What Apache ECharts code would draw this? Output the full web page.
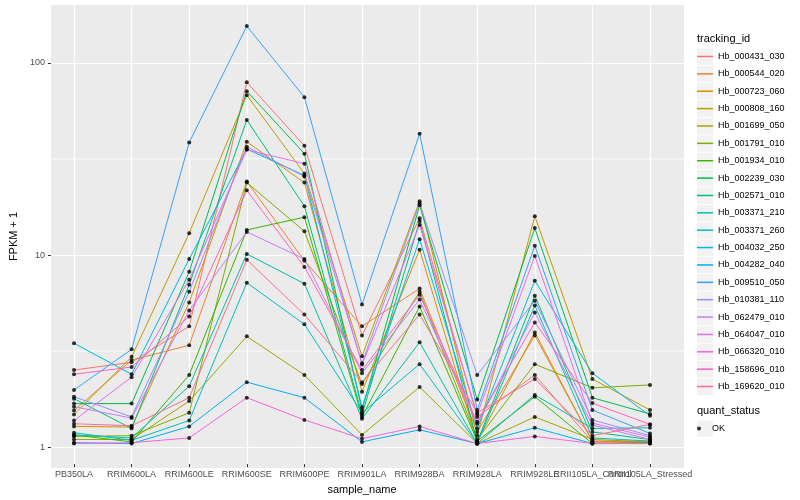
<!DOCTYPE html>
<html><head><meta charset="utf-8">
<script src="https://cdn.jsdelivr.net/npm/echarts@6/dist/echarts.min.js"></script>
<style>html,body{margin:0;padding:0;background:#fff}#c{width:800px;height:500px}</style>
</head><body><div id="c"></div>
<script>
const categories = ["PB350LA","RRIM600LA","RRIM600LE","RRIM600SE","RRIM600PE","RRIM901LA","RRIM928BA","RRIM928LA","RRIM928LE","RRII105LA_Control","RRII105LA_Stressed"];
const trackingIds = ["Hb_000431_030","Hb_000544_020","Hb_000723_060","Hb_000808_160","Hb_001699_050","Hb_001791_010","Hb_001934_010","Hb_002239_030","Hb_002571_010","Hb_003371_210","Hb_003371_260","Hb_004032_250","Hb_004282_040","Hb_009510_050","Hb_010381_110","Hb_062479_010","Hb_064047_010","Hb_066320_010","Hb_158696_010","Hb_169620_010"];
const colors = ["#F8766D","#EA8331","#D89000","#C09B00","#A3A500","#7CAE00","#39B600","#00BB4E","#00BF7D","#00C1A3","#00BFC4","#00BAE0","#00B0F6","#35A2FF","#9590FF","#C77CFF","#E76BF3","#FA62DB","#FF62BC","#FF6C91"];

const Hb_000431_030 = [2.43, 2.67, 4.12, 78.7, 36.5, 3.69, 15.2, 1.38, 2.29, 1.02, 1.03];
const Hb_000544_020 = [1.49, 2.74, 3.28, 23.7, 9.1, 4.12, 6.5, 1.15, 3.69, 1.03, 1.02];
const Hb_000723_060 = [1.23, 1.22, 5.5, 38.3, 23.4, 1.87, 10.4, 1.02, 3.83, 1.02, 1.01];
const Hb_000808_160 = [1.42, 2.85, 12.7, 67.3, 26.1, 2.87, 18.7, 1.1, 15.6, 2.18, 1.5];
const Hb_001699_050 = [1.05, 1.05, 1.67, 3.65, 2.29, 1.11, 1.98, 1.0, 1.38, 1.05, 1.02];
const Hb_001791_010 = [1.09, 1.1, 1.45, 23.4, 13.0, 2.05, 6.26, 1.05, 2.61, 1.96, 2.03];
const Hb_001934_010 = [1.11, 1.02, 2.29, 13.2, 15.4, 1.38, 5.24, 1.03, 1.76, 1.0, 1.01];
const Hb_002239_030 = [1.62, 1.62, 7.96, 70.6, 33.2, 1.5, 17.8, 1.7, 13.5, 1.74, 1.43];
const Hb_002571_010 = [1.72, 1.2, 6.81, 49.9, 17.6, 1.42, 14.7, 1.02, 5.97, 1.15, 1.05];
const Hb_003371_210 = [1.11, 1.07, 2.0, 9.88, 6.9, 1.35, 3.4, 1.0, 1.8, 1.2, 1.21];
const Hb_003371_260 = [1.14, 1.04, 1.32, 6.98, 4.22, 1.45, 2.61, 1.0, 5.3, 1.07, 1.03];
const Hb_004032_250 = [3.36, 2.31, 9.3, 35.1, 25.5, 1.55, 11.8, 1.2, 7.15, 2.34, 1.4];
const Hb_004282_040 = [1.01, 1.0, 1.23, 2.1, 1.74, 1.02, 1.18, 1.0, 1.21, 1.0, 1.0];
const Hb_009510_050 = [1.91, 3.12, 38.0, 155, 65.7, 5.36, 42.2, 1.5, 10.9, 1.5, 1.13];
const Hb_010381_110 = [1.76, 1.38, 6.26, 36.1, 25.2, 2.64, 18.2, 2.29, 5.62, 1.33, 1.1];
const Hb_062479_010 = [1.56, 1.36, 4.99, 12.9, 9.3, 2.34, 5.69, 1.27, 4.87, 1.25, 1.05];
const Hb_064047_010 = [1.32, 2.23, 7.23, 34.8, 29.4, 2.6, 14.0, 1.42, 9.65, 1.28, 1.08];
const Hb_066320_010 = [1.0, 1.01, 1.07, 1.74, 1.33, 1.06, 1.23, 1.0, 1.09, 1.0, 1.0];
const Hb_158696_010 = [2.31, 2.52, 4.64, 21.3, 8.45, 2.43, 6.04, 1.3, 4.32, 1.63, 1.26];
const Hb_169620_010 = [1.27, 1.24, 1.74, 9.21, 4.75, 2.1, 4.75, 1.45, 2.18, 1.1, 1.26];

const seriesValues = [Hb_000431_030, Hb_000544_020, Hb_000723_060, Hb_000808_160, Hb_001699_050, Hb_001791_010, Hb_001934_010, Hb_002239_030, Hb_002571_010, Hb_003371_210, Hb_003371_260, Hb_004032_250, Hb_004282_040, Hb_009510_050, Hb_010381_110, Hb_062479_010, Hb_064047_010, Hb_066320_010, Hb_158696_010, Hb_169620_010];
const yTicks = [1, 10, 100];
const yMinorBreaks = [3.1623, 31.623];
const statusLabel = "OK";

const FONT = "Liberation Sans";
const Y_MIN = 0.78, Y_MAX = 200;
const PANEL = {left: 40, right: 116, top: 5, bottom: 32};
const DATA_GRID = {left: 74, right: 150, top: 5, bottom: 32};
const LEG_LEFT = 697, LEG_TOP = 48, LEG_PITCH = 17.37;

const series = [];
// minor horizontal gridlines across the full panel (panel x axis runs 0..1)
yMinorBreaks.forEach((v, j) => {
  series.push({
    name: 'minor' + j, type: 'line', xAxisIndex: 0, yAxisIndex: 0,
    data: [[0, v], [1, v]], symbol: 'none', silent: true, z: 1,
    lineStyle: {color: '#FFFFFF', width: 0.8}
  });
});
trackingIds.forEach((id, k) => {
  series.push({
    name: id, type: 'line', xAxisIndex: 1, yAxisIndex: 1,
    data: seriesValues[k], symbol: 'none', color: colors[k],
    lineStyle: {width: 1, color: colors[k]}, z: 3, silent: true
  });
});
const pts = [];
seriesValues.forEach(arr => arr.forEach((v, i) => pts.push([categories[i], v])));
series.push({
  name: statusLabel, type: 'scatter', xAxisIndex: 1, yAxisIndex: 1,
  data: pts, symbol: 'circle', symbolSize: 4, itemStyle: {color: '#000000'}, z: 5, silent: true
});

const graphics = [];
trackingIds.forEach((id, k) => {
  graphics.push({type: 'rect', left: LEG_LEFT, top: LEG_TOP + k * LEG_PITCH + 0.4, shape: {width: 16, height: 16.5}, style: {fill: '#F2F2F2'}, z: 0});
});
graphics.push({type: 'rect', left: LEG_LEFT, top: 420.4, shape: {width: 16, height: 16.5}, style: {fill: '#F2F2F2'}, z: 0});
graphics.push({type: 'text', left: LEG_LEFT, top: 33, style: {text: 'tracking_id', fontSize: 11, fontFamily: FONT, fill: '#000'}});
graphics.push({type: 'text', left: LEG_LEFT, top: 405, style: {text: 'quant_status', fontSize: 11, fontFamily: FONT, fill: '#000'}});

const option = {
  animation: false,
  backgroundColor: '#FFFFFF',
  textStyle: {fontFamily: FONT},
  grid: [
    Object.assign({show: true, backgroundColor: '#EBEBEB', borderWidth: 0, z: 0}, PANEL),
    Object.assign({show: false}, DATA_GRID)
  ],
  xAxis: [
    {type: 'value', gridIndex: 0, min: 0, max: 1, show: false},
    {type: 'category', gridIndex: 1, data: categories, boundaryGap: false,
     axisLine: {show: false},
     axisTick: {show: true, length: 3, lineStyle: {color: '#333333', width: 1}, alignWithLabel: true},
     axisLabel: {interval: 0, color: '#4D4D4D', fontSize: 9, fontFamily: FONT, margin: 6},
     splitLine: {show: true, lineStyle: {color: '#FFFFFF', width: 1.2}},
     name: 'sample_name', nameLocation: 'middle', nameGap: 17,
     nameTextStyle: {color: '#000', fontSize: 11, fontFamily: FONT}}
  ],
  yAxis: [
    {type: 'log', gridIndex: 0, logBase: 10, min: Y_MIN, max: Y_MAX,
     axisLine: {show: false},
     axisTick: {show: true, length: 3, lineStyle: {color: '#333333', width: 1}, customValues: yTicks},
     axisLabel: {color: '#4D4D4D', fontSize: 9, fontFamily: FONT, margin: 6, customValues: yTicks, showMinLabel: true, showMaxLabel: true},
     splitLine: {show: true, lineStyle: {color: '#FFFFFF', width: 1.2}},
     name: 'FPKM + 1', nameLocation: 'middle', nameGap: 26, nameRotate: 90,
     nameTextStyle: {color: '#000', fontSize: 11, fontFamily: FONT}},
    {type: 'log', gridIndex: 1, logBase: 10, min: Y_MIN, max: Y_MAX, show: false, splitLine: {show: false}}
  ],
  legend: [
    {data: trackingIds, orient: 'vertical', left: LEG_LEFT, top: LEG_TOP, padding: 0,
     icon: 'rect', itemWidth: 16, itemHeight: 1.5, itemGap: LEG_PITCH - 17,
     selectedMode: false,
     textStyle: {fontSize: 9, fontFamily: FONT, color: '#000', lineHeight: 17}},
    {data: [statusLabel], orient: 'vertical', left: LEG_LEFT, top: 420, padding: 0,
     icon: 'circle', itemWidth: 16, itemHeight: 4, selectedMode: false,
     textStyle: {fontSize: 9, fontFamily: FONT, color: '#000', lineHeight: 17}}
  ],
  graphic: graphics,
  series: series
};
const chart = echarts.init(document.getElementById('c'), null, {renderer: 'canvas'});
chart.setOption(option);
</script></body></html>
